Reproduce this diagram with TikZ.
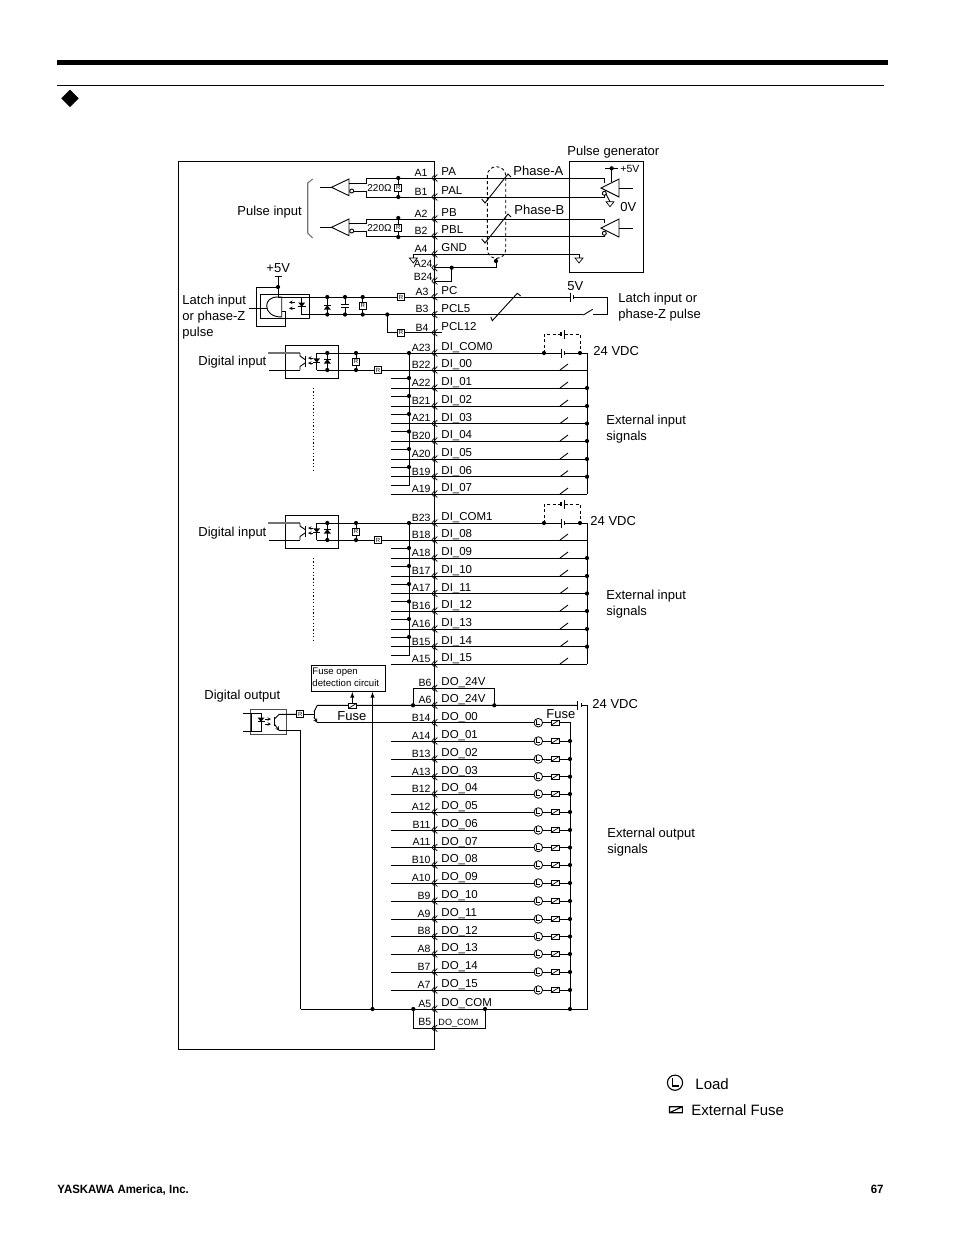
\documentclass[tikz,border=0pt]{standalone}
\usepackage{fontspec}
\setmainfont{Liberation Sans}
\newfontfamily\footfont[FakeStretch=0.955]{Liberation Sans}
\usetikzlibrary{calc}
\tikzset{
	lbl/.style={inner sep=0,anchor=mid west,yshift=-1.5pt,font=\fontsize{13}{16}\selectfont},
	lblblock/.style={inner sep=0,anchor=north west,yshift=-1.7pt,align=left,font=\fontsize{13}{16}\selectfont},
	pinlbl/.style={inner sep=0,anchor=mid east,yshift=-1pt,font=\fontsize{10.5}{12}\selectfont},
	siglbl/.style={inner sep=0,anchor=mid west,yshift=-1pt,font=\fontsize{11.5}{13}\selectfont},
	rbox/.style={draw,fill=white,inner sep=0,minimum size=7pt,line width=0.7pt,font=\fontsize{6}{6}\selectfont},
	graywire/.style={color=black!55,line width=1.1pt},
	mini/.style={-stealth,line width=0.6pt}
}
\def\jdot(#1,#2){\fill (#1,#2) circle (2.1);}
\def\chev(#1){\draw[line width=0.7pt] (435,#1-3.5) -- (431.8,#1) -- (435,#1+3.5) (437.3,#1-3.5) -- (434.1,#1) -- (437.3,#1+3.5);}
\def\pin[#1](#2)#3#4{\chev(#2) \node[pinlbl] (pin#3) at (#1,#2-5.2) {#3}; \node[siglbl] (sig#3) at (441,#2-6) {#4};}
\def\blade(#1,#2){\draw (#1,#2) -- ++(8,-6);}
\def\cell(#1,#2){\draw (#1,#2-4.5) -- (#1,#2+4.5); \draw[line width=1.3pt] (#1+3.5,#2-2) -- (#1+3.5,#2+2);}
\def\gnd(#1,#2){\draw[line width=0.7pt] (#1-4,#2) -- (#1+4,#2) -- (#1,#2+5) -- cycle;}
\def\fusemark(#1,#2){\draw[fill=white,line width=0.7pt] (#1-4,#2-2.5) rectangle (#1+4,#2+2.5); \draw[line width=0.7pt] (#1-4,#2+2.5) -- (#1+4,#2-2.5);}
\def\loadmark(#1,#2){\draw[fill=white,line width=0.8pt] (#1,#2) circle (4.3); \draw[line width=0.7pt] (#1-1.5,#2-2.6) -- (#1-1.5,#2+1.8) -- (#1+2,#2+1.8);}
\def\twist(#1){\draw (481.7,#1+25) -- (485,#1+29) -- (508,#1) -- (511,#1+3);}
\def\distub(#1){\draw (391,#1) -- (409,#1); \jdot(409,#1)}
\def\dirow(#1)#2#3{\draw (391,#1) -- (587,#1); \blade(560,#1) \pin[431](#1){#2}{#3}}
\def\dorow(#1)#2#3{\draw (391,#1) -- (570,#1); \loadmark(538.3,#1) \fusemark(555,#1) \jdot(570,#1) \pin[431](#1){#2}{#3}}
\def\rxbuf(#1)#2{
	\begin{scope}[shift={(0,#1)}]
		\draw (320,187.3) -- (331.5,187.3);
		\draw (331.5,187.3) -- (349,179) -- (349,195.7) -- cycle;
		\draw (349,183.5) -- (366.7,183.5);
		\draw (351.7,191) circle (2);
		\draw (353.7,191) -- (366.7,191);
		\draw (398.3,178) -- (398.3,197);
		\node[rbox] (Rrx#2) at (398.3,187.5) {R};
		\node[inner sep=0,yshift=-0.5pt,font=\fontsize{10}{12}\selectfont] (ohm#2) at (379.5,187.5) {220Ω};
		\jdot(398.3,178) \jdot(398.3,197)
	\end{scope}
}
\def\txbuf(#1){
	\begin{scope}[shift={(0,#1)}]
		\draw (601,188) -- (619,179) -- (619,197) -- cycle;
		\draw (619,188) -- (633,188);
		\draw[fill=white] (604.3,193.3) circle (2);
	\end{scope}
}
\def\digroup(#1)#2{
	\begin{scope}[shift={(0,#1)}]
		\draw (285.3,345.3) rectangle (338.3,378.7);
		\draw[graywire] (268,353) -- (300,353);
		\draw (269,370) -- (300,370);
		\draw (300,353) -- (300,356) -- (305,359.5) (300,370) -- (300,366.5) -- (305,363);
		\draw (305,356) -- (305,366.5);
		\draw[mini] (313,358) -- (308,358);
		\draw[mini] (313,363) -- (308,363);
		\draw (316.7,370) -- (316.7,353) -- (561,353);
		\fill (313.2,358.3) -- (320.2,358.3) -- (316.7,362.6) -- cycle;
		\draw (313.2,362.6) -- (320.2,362.6);
		\draw (327.3,353) -- (327.3,370);
		\fill (323.8,363.5) -- (330.8,363.5) -- (327.3,359.2) -- cycle;
		\draw (323.8,359.2) -- (330.8,359.2);
		\draw (316.7,370) -- (587,370);
		\blade(560,370)
		\draw (356,353) -- (356,370);
		\node[rbox] (Rv#2) at (356,361.7) {R};
		\node[rbox] (Rh#2) at (378,370) {R};
		\jdot(327.3,353) \jdot(327.3,370) \jdot(356,353) \jdot(356,370) \jdot(409,353)
		\draw (409,353) -- (409,485.5);
		\cell(561,353)
		\draw (564.5,353) -- (587,353) -- (587,494);
		\jdot(544,353) \jdot(580,353)
		\draw[dashed,dash pattern=on 3pt off 2.5pt] (544,353) -- (544,334) -- (560,334);
		\draw[line width=1.3pt] (561,332) -- (561,336);
		\draw (564.5,329.5) -- (564.5,338.5);
		\draw[dashed,dash pattern=on 3pt off 2.5pt] (564.5,334) -- (580,334) -- (580,353);
		\draw[dashed,dash pattern=on 1.2pt off 2.2pt] (313.7,388) -- (313.7,471.7);
	\end{scope}
}

\begin{document}
\begin{tikzpicture}[x=1pt,y=-1pt,line width=0.9pt]
	%%%%% START %%%%%
	\useasboundingbox (0,0) rectangle (954,1235);
	
	\fill (57,60) rectangle (888,64.5);
	\draw (57,85) -- (884,85);
	\fill (70,89.7) -- (78.7,98.3) -- (70,107) -- (61.3,98.3) -- cycle;
	
	\draw (434.5,161) -- (178.5,161) -- (178.5,1049) -- (434.5,1049) -- cycle;
	
	% pulse inputs
	\draw[graywire] (312.7,179) -- (307.7,183) -- (307.7,233) -- (312.7,238);
	\node[lbl] (pulsein) at (237,211) {Pulse input};
	\rxbuf(0){a}
	\rxbuf(40){b}
	\draw (366.7,183.5) -- (366.7,178) -- (604,178) -- (604,183);
	\draw (366.7,191) -- (366.7,197) -- (604,197) -- (604,195);
	\draw (366.7,223.5) -- (366.7,219) -- (604,219) -- (604,223);
	\draw (366.7,231) -- (366.7,236) -- (604,236) -- (604,235);
	\pin[428](178){A1}{PA}
	\pin[428](197){B1}{PAL}
	\pin[428](219){A2}{PB}
	\pin[428](236){B2}{PBL}
	\pin[428](254){A4}{GND}
	
	% pulse generator
	\node[lbl] (pulsegen) at (567,151.5) {Pulse generator};
	\draw (569.3,161.7) rectangle (643.3,272.3);
	\txbuf(0)
	\txbuf(40)
	\draw (605,168.3) -- (618,168.3);
	\jdot(611.7,168.3)
	\draw (611.7,168.3) -- (611.7,181.7);
	\node[inner sep=0,anchor=mid west,font=\fontsize{10.5}{12}\selectfont] (plus5a) at (620,170) {+5V};
	\draw (606,194) -- (610,201.7);
	\gnd(610,201.7)
	\node[lbl] (zerov) at (620,207) {0V};
	\node[lbl] (phasea) at (513,171.5) {Phase-A};
	\node[lbl] (phaseb) at (514,210.5) {Phase-B};
	\twist(174)
	\twist(214)
	
	% shield and ground
	\draw[dashed,dash pattern=on 3pt off 2.5pt,rounded corners=9pt] (487.3,166.7) rectangle (505.7,258.3);
	\jdot(496,261)
	\draw (496,258.3) -- (496,267.7) -- (435,267.7);
	\draw (434.5,281) -- (451.7,281) -- (451.7,267.7);
	\jdot(451.7,267.7)
	\draw (413.3,258) -- (413.3,254) -- (579,254) -- (579,258);
	\gnd(413.3,258)
	\gnd(579,258)
	\chev(267.7)
	\chev(281)
	\node[pinlbl] (pinA24) at (433,263.5) {A24};
	\node[pinlbl] (pinB24) at (433,276.5) {B24};
	
	% latch input
	\node[lblblock] (latchin) at (182,293) {Latch input\\or phase-Z\\pulse};
	\node[lbl] (plus5b) at (266,268.5) {+5V};
	\draw (275,276.7) -- (282,276.7);
	\draw (278,276.7) -- (278,297) -- (570,297);
	\jdot(278,287)
	\draw (278,287) -- (256,287) -- (256,326.7) -- (285.7,326.7) -- (285.7,311) -- (281.7,311);
	\draw (260.7,294.3) rectangle (309.3,318.3);
	\draw (249,308) -- (266.7,308);
	\draw (281.7,297) -- (278,297) .. controls (270,297) and (266.7,301) .. (266.7,306) .. controls (266.7,312) and (272,317) .. (281.7,317) -- cycle;
	\draw[mini] (295,302.3) -- (289,302.3);
	\draw[mini] (295,308.3) -- (289,308.3);
	\draw (301.7,297) -- (301.7,314.5) -- (583.3,314.5);
	\fill (298.2,302.5) -- (305.2,302.5) -- (301.7,306.8) -- cycle;
	\draw (297.7,306.8) -- (305.7,306.8);
	\draw (327.3,297) -- (327.3,314.5);
	\fill (323.8,309.6) -- (330.8,309.6) -- (327.3,305.3) -- cycle;
	\draw (323.8,305.3) -- (330.8,305.3);
	\draw (345,297) -- (345,304.3) (345,307.3) -- (345,314.5);
	\draw (341,304.3) -- (349,304.3) (341,307.3) -- (349,307.3);
	\draw (362.7,297) -- (362.7,314.5);
	\node[rbox] (Rlatch) at (362.7,305.7) {R};
	\jdot(327.3,297) \jdot(345,297) \jdot(362.7,297)
	\jdot(327.3,314.5) \jdot(345,314.5) \jdot(362.7,314.5)
	\node[rbox] (Rpc) at (401,297) {R};
	\jdot(387.3,314.5)
	\draw (387.3,314.5) -- (387.3,332.7) -- (441.7,332.7);
	\node[rbox] (Rpcl) at (401,332.7) {R};
	\pin[429](296.7){A3}{PC}
	\pin[429](314.5){B3}{PCL5}
	\pin[429](332.7){B4}{PCL12}
	\draw (490.7,316.7) -- (492.3,320.7) -- (517.3,293.3) -- (520.7,296);
	\node[lbl] (fivev) at (567,286) {5V};
	\cell(570,297)
	\draw (573.5,297) -- (607.3,297) -- (607.3,314.5) -- (593,314.5);
	\draw (583.3,315) -- (592.7,309.3);
	\node[lblblock] (latchout) at (618,291) {Latch input or\\phase-Z pulse};
	
	% digital inputs 0
	\node[lbl] (digin0) at (198,361.5) {Digital input};
	\digroup(0){a}
	\pin[431](353){A23}{DI\_COM0}
	\chev(370)
	\node[pinlbl] (pinB22) at (431,364.8) {B22};
	\node[siglbl] (sigB22) at (441,364) {DI\_00};
	\distub(378) \distub(396) \distub(414) \distub(431.5) \distub(449) \distub(467)
	\draw (391,485.5) -- (409,485.5);
	\dirow(388){A22}{DI\_01}
	\dirow(406){B21}{DI\_02}
	\dirow(423.5){A21}{DI\_03}
	\dirow(441){B20}{DI\_04}
	\dirow(459){A20}{DI\_05}
	\dirow(476.7){B19}{DI\_06}
	\dirow(494){A19}{DI\_07}
	\jdot(587,388) \jdot(587,406) \jdot(587,423.5) \jdot(587,441) \jdot(587,459) \jdot(587,476.7)
	\node[lbl] (vdc0) at (593,351) {24 VDC};
	\node[lblblock] (extin0) at (606,413) {External input\\signals};
	
	% digital inputs 1
	\node[lbl] (digin1) at (198,532.5) {Digital input};
	\digroup(170){b}
	\pin[431](523){B23}{DI\_COM1}
	\chev(540)
	\node[pinlbl] (pinB18) at (431,534.8) {B18};
	\node[siglbl] (sigB18) at (441,534) {DI\_08};
	\distub(548) \distub(566) \distub(584) \distub(601.5) \distub(619) \distub(637)
	\draw (391,655.5) -- (409,655.5);
	\dirow(558){A18}{DI\_09}
	\dirow(576){B17}{DI\_10}
	\dirow(593.5){A17}{DI\_11}
	\dirow(611){B16}{DI\_12}
	\dirow(629){A16}{DI\_13}
	\dirow(646.7){B15}{DI\_14}
	\dirow(664){A15}{DI\_15}
	\jdot(587,558) \jdot(587,576) \jdot(587,593.5) \jdot(587,611) \jdot(587,629) \jdot(587,646.7)
	\node[lbl] (vdc1) at (590,521) {24 VDC};
	\node[lblblock] (extin1) at (606,588) {External input\\signals};
	
	% digital outputs
	\node[lbl] (digout) at (204,695.5) {Digital output};
	\draw[color=black!70] (250.5,709.3) rectangle (286,734);
	\draw (243,713.3) -- (261,713.3) (243,731) -- (261,731);
	\draw (251.7,713.3) rectangle (261,731);
	\fill (257.5,717.5) -- (264.5,717.5) -- (261,721.8) -- cycle;
	\draw (257.5,721.8) -- (264.5,721.8);
	\draw[mini] (265,719) -- (271,719);
	\draw[mini] (265,724) -- (271,724);
	\draw (274.3,716.7) -- (274.3,726);
	\draw (274.3,719) -- (279.3,714.3) -- (297,714.3);
	\draw[-stealth] (274.3,724) -- (279.3,730.7);
	\draw (279.3,730.7) -- (300.7,730.7) -- (300.7,1009);
	\node[rbox] (Rdo) at (300.3,714.3) {R};
	\draw (303.8,714.3) -- (314,714.3);
	\draw (314,710) -- (314,719.3);
	\draw (314,712) -- (317.3,705.3) -- (577.7,705.3);
	\draw[-stealth] (314,717) -- (317.3,722.7);
	\draw (317.3,722.7) -- (391,722.7);
	\draw (311,665.7) rectangle (385,691.7);
	\node[inner sep=0,anchor=north west,align=left,font=\fontsize{9.6}{12}\selectfont] (fuseopen) at (312,667.6) {Fuse open\\detection circuit};
	\fusemark(352.3,706)
	\draw[-latex] (352.3,703.5) -- (352.3,692);
	\draw[-latex] (372.5,1009) -- (372.5,692);
	\node[lbl] (fuse0) at (337,716.5) {Fuse};
	\jdot(413,705.3)
	\draw (413,705.3) -- (413,688.3) -- (494.3,688.3) -- (494.3,705.3);
	\jdot(494.3,705.3)
	\pin[432](688.3){B6}{DO\_24V}
	\pin[432](705.3){A6}{DO\_24V}
	\cell(577.7,705.3)
	\draw (581.2,705.3) -- (587.7,705.3) -- (587.7,1009);
	\node[lbl] (vdc2) at (592,704) {24 VDC};
	\node[lbl] (fuse1) at (546,714) {Fuse};
	\draw (391,722.7) -- (570,722.7) -- (570,1009);
	\loadmark(538.3,722.7)
	\fusemark(555,722.7)
	\pin[431](722.7){B14}{DO\_00}
	\dorow(741){A14}{DO\_01}
	\dorow(759){B13}{DO\_02}
	\dorow(776.7){A13}{DO\_03}
	\dorow(794){B12}{DO\_04}
	\dorow(812){A12}{DO\_05}
	\dorow(830){B11}{DO\_06}
	\dorow(847.5){A11}{DO\_07}
	\dorow(865){B10}{DO\_08}
	\dorow(883){A10}{DO\_09}
	\dorow(901){B9}{DO\_10}
	\dorow(919){A9}{DO\_11}
	\dorow(936.5){B8}{DO\_12}
	\dorow(954){A8}{DO\_13}
	\dorow(972){B7}{DO\_14}
	\dorow(990){A7}{DO\_15}
	\node[lblblock] (extout) at (607,826) {External output\\signals};
	
	% common return
	\draw (300.7,1009) -- (587.7,1009);
	\jdot(372.5,1009) \jdot(413.3,1009) \jdot(485,1009) \jdot(570,1009)
	\draw (413.3,1009) -- (413.3,1028.3) -- (485,1028.3) -- (485,1009);
	\pin[431.7](1009){A5}{DO\_COM}
	\chev(1028.3)
	\node[pinlbl] (pinB5) at (431.7,1022) {B5};
	\node[inner sep=0,anchor=mid west,font=\fontsize{9.1}{11}\selectfont] (sigB5) at (438,1023) {DO\_COM};
	
	% legend
	\draw[line width=1.1pt] (675,1082.7) circle (7.6);
	\draw[line width=1.1pt] (672.2,1077.5) -- (672.2,1086) -- (679,1086);
	\node[font=\fontsize{15}{18}\selectfont,inner sep=0,anchor=mid west] (loadtxt) at (695,1087) {Load};
	\draw[line width=1.1pt] (669.5,1106.7) rectangle (682.3,1112.7) (669.5,1112.7) -- (682.3,1106.7);
	\node[font=\fontsize{15}{18}\selectfont,inner sep=0,anchor=mid west] (fusetxt) at (691,1113) {External Fuse};
	
	% footer
	\node[inner sep=0,anchor=mid west,font=\fontsize{12}{14}\selectfont\footfont\bfseries] (footcorp) at (57,1191) {YASKAWA America, Inc.};
	\node[inner sep=0,anchor=mid east,font=\fontsize{12}{14}\selectfont\footfont\bfseries] (footpage) at (884,1191) {67};
	
	%%%%% END %%%%%
\end{tikzpicture}
\end{document}
